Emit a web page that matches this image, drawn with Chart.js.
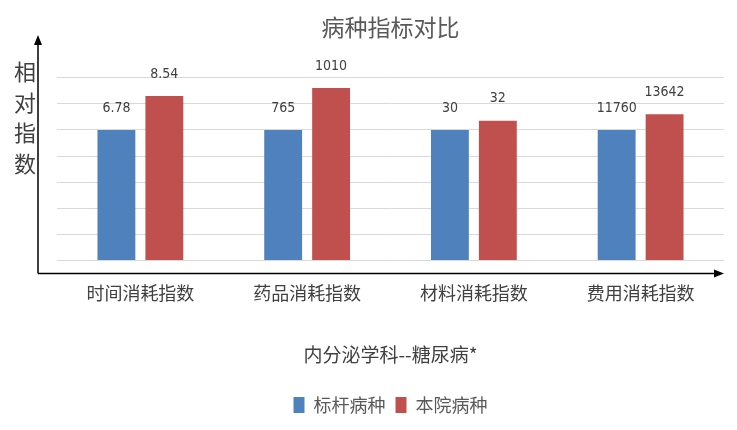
<!DOCTYPE html>
<html>
<head>
<meta charset="utf-8">
<script src="https://cdn.jsdelivr.net/npm/chart.js@4"></script>
<style>
  html, body { margin: 0; padding: 0; background: #fff; }
  #wrap { width: 737px; height: 430px; }
</style>
</head>
<body>
<div id="wrap"><canvas id="chart"></canvas></div>
<script>
// 数据
const categories = ['时间消耗指数', '药品消耗指数', '材料消耗指数', '费用消耗指数'];
const seriesNames = ['标杆病种', '本院病种'];
// 相对指数（柱高，从图上读取）
const benchmarkIndex = [1.00, 1.00, 1.00, 1.00];
const hospitalIndex = [1.26, 1.32, 1.07, 1.12];
// 柱顶标签
const benchmarkLabels = ['6.78', '765', '30', '11760'];
const hospitalLabels = ['8.54', '1010', '32', '13642'];
const yTitleChars = ['相', '对', '指', '数'];

const CJK = '"Noto Sans CJK SC", "Noto Sans", sans-serif';
const NUM = '"Liberation Sans Narrow", "DejaVu Sans Condensed", "Liberation Sans", sans-serif';

// 柱顶数值标签
const valueLabels = {
    id: 'valueLabels',
    afterDatasetsDraw(chart) {
        const ctx = chart.ctx;
        const labelSets = [benchmarkLabels, hospitalLabels];
        ctx.save();
        ctx.font = '14px ' + NUM;
        ctx.fillStyle = '#404040';
        ctx.textAlign = 'center';
        ctx.textBaseline = 'middle';
        chart.data.datasets.forEach((ds, di) => {
            chart.getDatasetMeta(di).data.forEach((bar, i) => {
                ctx.fillText(labelSets[di][i], bar.x, bar.y - 22);
            });
        });
        ctx.restore();
    }
};

// 带箭头的坐标轴和竖排的纵轴标题
const arrowAxes = {
    id: 'arrowAxes',
    afterDraw(chart) {
        const ctx = chart.ctx;
        const area = chart.chartArea;
        const x0 = area.left - 19;
        const y0 = area.bottom + 13;
        const yTop = 35;
        const xEnd = area.right;
        ctx.save();
        ctx.strokeStyle = '#000';
        ctx.fillStyle = '#000';
        ctx.lineWidth = 1.5;
        ctx.beginPath();
        ctx.moveTo(x0, y0);
        ctx.lineTo(x0, yTop + 8);
        ctx.moveTo(x0, y0);
        ctx.lineTo(xEnd - 8, y0);
        ctx.stroke();
        ctx.beginPath();
        ctx.moveTo(x0, yTop);
        ctx.lineTo(x0 - 4, yTop + 10);
        ctx.lineTo(x0 + 4, yTop + 10);
        ctx.closePath();
        ctx.fill();
        ctx.beginPath();
        ctx.moveTo(xEnd, y0);
        ctx.lineTo(xEnd - 10, y0 - 4);
        ctx.lineTo(xEnd - 10, y0 + 4);
        ctx.closePath();
        ctx.fill();

        ctx.font = '22px ' + CJK;
        ctx.fillStyle = '#404040';
        ctx.textAlign = 'center';
        ctx.textBaseline = 'middle';
        yTitleChars.forEach((ch, i) => {
            ctx.fillText(ch, 25, 72 + i * 30.5);
        });
        ctx.restore();
    }
};

const ctx = document.getElementById('chart').getContext('2d');
new Chart(ctx, {
    type: 'bar',
    data: {
        labels: categories,
        datasets: [{
            label: seriesNames[0],
            data: benchmarkIndex,
            backgroundColor: '#4F81BD'
        }, {
            label: seriesNames[1],
            data: hospitalIndex,
            backgroundColor: '#C0504D'
        }]
    },
    options: {
        responsive: true,
        maintainAspectRatio: false,
        animation: false,
        categoryPercentage: 0.575,
        barPercentage: 0.79,
        layout: { padding: { left: 57, right: 13, top: 0, bottom: 6 } },
        plugins: {
            title: {
                display: true,
                text: '病种指标对比',
                color: '#595959',
                font: { family: CJK, size: 23, weight: 'normal' },
                padding: { top: 13, bottom: 37 }
            },
            legend: {
                position: 'bottom',
                labels: {
                    color: '#595959',
                    font: { family: CJK, size: 18 },
                    boxWidth: 11,
                    boxHeight: 16,
                    padding: 10
                }
            },
            tooltip: { enabled: false }
        },
        scales: {
            x: {
                grid: { display: false, drawTicks: false },
                border: { display: false },
                ticks: {
                    color: '#404040',
                    font: { family: CJK, size: 18 },
                    padding: 22
                },
                title: {
                    display: true,
                    text: '内分泌学科--糖尿病*',
                    color: '#404040',
                    font: { family: CJK, size: 19 },
                    padding: { top: 17, bottom: 20 }
                }
            },
            y: {
                min: 0,
                max: 1.4,
                ticks: { display: false, stepSize: 0.2 },
                grid: { color: '#D9D9D9', drawTicks: false },
                border: { display: false },
                afterFit(scale) { scale.width = 0; }
            }
        }
    },
    plugins: [valueLabels, arrowAxes]
});
</script>
</body>
</html>
